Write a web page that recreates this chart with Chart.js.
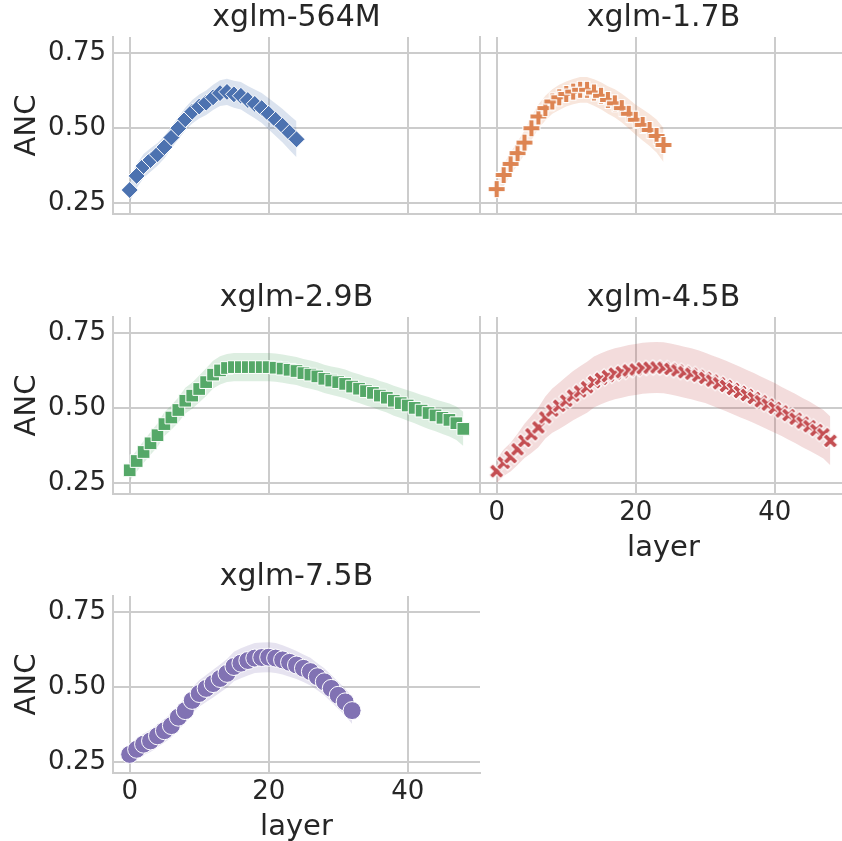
<!DOCTYPE html>
<html>
<head>
<meta charset="utf-8">
<script src="https://cdn.jsdelivr.net/npm/chart.js@4.4.1/dist/chart.umd.min.js"></script>
<style>
  html, body { margin: 0; padding: 0; background: #fff; overflow: hidden; }
  #wrap { position: relative; width: 842px; height: 841px; overflow: hidden; }
  canvas { position: absolute; }
</style>
</head>
<body>
<div id="wrap">
  <canvas id="p564"></canvas>
  <canvas id="p17"></canvas>
  <canvas id="p29"></canvas>
  <canvas id="p45"></canvas>
  <canvas id="p75"></canvas>
</div>
<script>
// mean ANC per layer (index = layer) and half width of the band
const anc564 = [0.293,0.340,0.373,0.393,0.412,0.436,0.468,0.499,0.529,0.554,0.571,0.584,0.602,0.616,0.620,0.612,0.607,0.593,0.580,0.566,0.547,0.527,0.507,0.484,0.462];
const ci564  = [0.040,0.040,0.040,0.039,0.038,0.037,0.037,0.037,0.038,0.039,0.040,0.041,0.042,0.043,0.044,0.045,0.046,0.047,0.048,0.050,0.052,0.054,0.056,0.058,0.060];

const anc17 = [0.296,0.343,0.380,0.416,0.451,0.499,0.538,0.566,0.588,0.602,0.613,0.621,0.627,0.627,0.618,0.607,0.593,0.582,0.566,0.547,0.527,0.510,0.493,0.473,0.443];
const ci17  = [0.036,0.037,0.038,0.039,0.040,0.040,0.040,0.041,0.041,0.042,0.042,0.042,0.043,0.043,0.044,0.045,0.046,0.047,0.048,0.049,0.050,0.052,0.053,0.055,0.057];

const anc29 = [0.292,0.323,0.353,0.382,0.409,0.446,0.468,0.493,0.524,0.541,0.563,0.586,0.611,0.625,0.633,0.636,0.636,0.636,0.636,0.636,
               0.636,0.634,0.631,0.627,0.623,0.616,0.611,0.605,0.597,0.591,0.586,0.580,0.571,0.564,0.556,0.550,0.541,0.534,0.524,0.516,
               0.508,0.500,0.491,0.483,0.475,0.467,0.460,0.449,0.430];
const ci29  = [0.035,0.036,0.037,0.038,0.039,0.040,0.041,0.042,0.043,0.044,0.045,0.046,0.046,0.047,0.047,0.047,0.047,0.047,0.047,0.047,
               0.047,0.047,0.047,0.047,0.047,0.047,0.047,0.047,0.047,0.047,0.048,0.048,0.048,0.048,0.048,0.049,0.049,0.049,0.050,0.050,
               0.051,0.051,0.052,0.053,0.053,0.054,0.055,0.056,0.057];

const anc45 = [0.289,0.317,0.336,0.362,0.390,0.412,0.435,0.468,0.491,0.507,0.524,0.541,0.555,0.569,0.586,0.597,0.606,0.614,0.619,0.625,
               0.628,0.632,0.634,0.635,0.634,0.630,0.625,0.619,0.614,0.607,0.600,0.591,0.582,0.573,0.563,0.553,0.543,0.533,0.522,0.511,
               0.500,0.488,0.476,0.464,0.451,0.439,0.426,0.412,0.390];
const ci45  = [0.040,0.044,0.048,0.052,0.057,0.062,0.066,0.070,0.074,0.077,0.080,0.082,0.084,0.085,0.085,0.085,0.085,0.085,0.085,0.085,
               0.085,0.085,0.085,0.085,0.085,0.085,0.085,0.085,0.085,0.085,0.084,0.084,0.084,0.084,0.084,0.084,0.083,0.083,0.083,0.083,
               0.083,0.082,0.082,0.082,0.082,0.082,0.081,0.081,0.081];

const anc75 = [0.275,0.292,0.309,0.320,0.337,0.354,0.371,0.399,0.421,0.455,0.478,0.495,0.511,0.528,0.545,0.568,0.579,0.588,0.596,0.598,
               0.599,0.596,0.590,0.582,0.573,0.562,0.551,0.534,0.517,0.495,0.472,0.450,0.421];
const ci75  = [0.034,0.035,0.036,0.037,0.038,0.039,0.040,0.041,0.042,0.043,0.044,0.045,0.046,0.047,0.048,0.049,0.050,0.050,0.050,0.050,
               0.050,0.050,0.049,0.048,0.047,0.046,0.046,0.045,0.045,0.045,0.045,0.045,0.045];

const FONT = 'DejaVu Sans';
const INK = '#262626';
const GRID = '#cccccc';

// filled plus / x glyphs with a white edge, like matplotlib 'P' and 'X'
function glyph(color, angle, half, thick) {
  const c = document.createElement('canvas');
  c.width = 24; c.height = 24;
  const g = c.getContext('2d');
  g.translate(12, 12);
  g.rotate(angle);
  const a = half, t = thick / 2;
  g.beginPath();
  g.moveTo(-t, -a); g.lineTo(t, -a); g.lineTo(t, -t); g.lineTo(a, -t);
  g.lineTo(a, t); g.lineTo(t, t); g.lineTo(t, a); g.lineTo(-t, a);
  g.lineTo(-t, t); g.lineTo(-a, t); g.lineTo(-a, -t); g.lineTo(-t, -t);
  g.closePath();
  g.fillStyle = color;
  g.fill();
  g.lineWidth = 1.2;
  g.strokeStyle = '#fff';
  g.stroke();
  return c;
}

const panels = [
  { id: 'p564', title: 'xglm-564M', mean: anc564, ci: ci564, color: '#4C72B0', band: 'rgba(76,114,176,0.2)',
    marker: 'rectRot', radius: 8.5, left: 0, top: 0, h: 216, col: 0, xlab: false },
  { id: 'p17', title: 'xglm-1.7B', mean: anc17, ci: ci17, color: '#DD8452', band: 'rgba(221,132,82,0.2)',
    marker: glyph('#DD8452', 0, 8.5, 5.4), radius: 8, left: 478, top: 0, h: 216, col: 1, xlab: false },
  { id: 'p29', title: 'xglm-2.9B', mean: anc29, ci: ci29, color: '#55A868', band: 'rgba(85,168,104,0.2)',
    marker: 'rect', radius: 9, left: 0, top: 280, h: 216, col: 0, xlab: false },
  { id: 'p45', title: 'xglm-4.5B', mean: anc45, ci: ci45, color: '#C44E52', band: 'rgba(196,78,82,0.2)',
    marker: glyph('#C44E52', Math.PI / 4, 8, 5), radius: 8, left: 478, top: 280, h: 288, col: 1, xlab: true },
  { id: 'p75', title: 'xglm-7.5B', mean: anc75, ci: ci75, color: '#8172B3', band: 'rgba(129,114,179,0.2)',
    marker: 'circle', radius: 9, left: 0, top: 559, h: 288, col: 0, xlab: true }
];

panels.forEach(function (p) {
  const cv = document.getElementById(p.id);
  const w = p.col === 0 ? 482 : 371;
  cv.width = w; cv.height = p.h;
  cv.style.left = p.left + 'px';
  cv.style.top = p.top + 'px';
  cv.style.width = w + 'px';
  cv.style.height = p.h + 'px';

  const pts = p.mean.map((v, i) => ({ x: i, y: v }));
  const upper = p.mean.map((v, i) => ({ x: i, y: v + p.ci[i] }));
  const lower = p.mean.map((v, i) => ({ x: i, y: v - p.ci[i] }));

  new Chart(cv, {
    type: 'line',
    data: {
      datasets: [
        {
          data: pts, showLine: false,
          pointStyle: p.marker, pointRadius: p.radius,
          pointBackgroundColor: p.color, pointBorderColor: '#fff', pointBorderWidth: 1
        },
        { data: upper, pointRadius: 0, borderWidth: 0, borderColor: 'rgba(0,0,0,0)', fill: false },
        { data: lower, pointRadius: 0, borderWidth: 0, borderColor: 'rgba(0,0,0,0)', fill: '-1', backgroundColor: p.band }
      ]
    },
    options: {
      responsive: false,
      animation: false,
      events: [],
      layout: { autoPadding: false, padding: { left: p.col === 1 ? 2 : 0, right: 2, top: 0, bottom: 2 } },
      plugins: {
        legend: { display: false },
        tooltip: { enabled: false },
        title: {
          display: true, text: p.title, color: INK, fullSize: false,
          font: { family: FONT, size: 30, weight: 'normal' },
          padding: { top: 0.5, bottom: 0.5 }
        }
      },
      scales: {
        x: {
          type: 'linear', min: -2.4, max: 50.4,
          afterFit: function (s) { s.height = p.xlab ? 72 : 0; s.paddingLeft = 0; s.paddingRight = 0; },
          grid: { color: GRID, lineWidth: 2, drawTicks: false },
          border: { color: GRID, width: 2 },
          ticks: {
            display: p.xlab, stepSize: 20, includeBounds: false, padding: 4,
            color: INK, font: { family: FONT, size: 26 }
          },
          title: {
            display: p.xlab, text: 'layer', color: INK,
            font: { family: FONT, size: 29 }, padding: { top: 0, bottom: 0 }
          }
        },
        y: {
          min: 0.213, max: 0.803,
          afterFit: function (s) { s.width = p.col === 0 ? 113 : 0; s.paddingTop = 0; s.paddingBottom = 0; },
          grid: { color: GRID, lineWidth: 2, drawTicks: false },
          border: { color: GRID, width: 2 },
          ticks: {
            display: p.col === 0, stepSize: 0.25, includeBounds: false, padding: 7,
            color: INK, font: { family: FONT, size: 26 },
            callback: v => v.toFixed(2)
          },
          title: {
            display: p.col === 0, text: 'ANC', color: INK,
            font: { family: FONT, size: 29 }, padding: { top: 10, bottom: 0 }
          }
        }
      }
    }
  });
});
</script>
</body>
</html>
